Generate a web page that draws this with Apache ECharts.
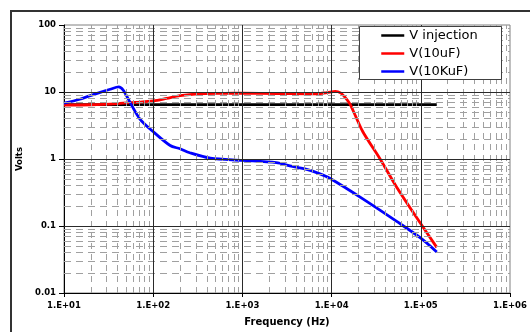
<!DOCTYPE html>
<html><head><meta charset="utf-8">
<script src="https://cdn.jsdelivr.net/npm/echarts@6/dist/echarts.min.js"></script>
<style>html,body{margin:0;padding:0;background:#fff}#c{width:530px;height:332px}</style>
</head><body><div id="c"></div>
<script>
const seriesNames = ['V injection', 'V(10uF)', 'V(10KuF)'];
const seriesColors = ['#000000', '#ff0000', '#0000ff'];

const injFreq  = [10, 151000];
const injVolts = [6.5, 6.5];

const uFreq  = [10, 20, 40, 63, 100, 141, 200, 316, 631, 1000, 2500, 6300, 8900, 11000, 12600, 14100, 16000, 17400, 22400, 34700, 53700, 100000, 151000];
const uVolts = [6.4, 6.45, 6.7, 7.0, 7.35, 8.0, 8.8, 9.4, 9.55, 9.6, 9.5, 9.35, 9.8, 10.2, 9.7, 8.4, 6.7, 5.3, 2.55, 1.02, 0.38, 0.108, 0.048];

const kFreq  = [10, 15, 25, 33, 41, 46, 55, 71, 102, 155, 200, 257, 437, 1000, 2400, 3400, 5250, 7400, 9550, 22400, 53700, 100000, 151000];
const kVolts = [6.8, 7.8, 9.8, 11.0, 11.9, 10.7, 7.0, 3.95, 2.5, 1.59, 1.42, 1.24, 1.03, 0.955, 0.88, 0.79, 0.70, 0.60, 0.515, 0.254, 0.117, 0.066, 0.041];

const xTickLabels = ['1.E+01', '1.E+02', '1.E+03', '1.E+04', '1.E+05', '1.E+06'];
const yTickLabels = ['0.01', '0.1', '1', '10', '100'];
const xAxisTitle = 'Frequency (Hz)';
const yAxisTitle = 'Volts';

const xMajorGrid = [100, 1000, 10000, 100000];
const yMajorGrid = [0.1, 1, 10];
const xDecades = [10, 100, 1000, 10000, 100000];
const yDecades = [0.01, 0.1, 1, 10];
const minorMult = [2, 3, 4, 5, 6, 7, 8, 9];

const pairs = (xs, ys) => xs.map((x, i) => [x, ys[i]]);

const gridLines = [];
xDecades.forEach(d => minorMult.forEach(m => gridLines.push({xAxis: d * m, lineStyle: {color: '#a0a0a0', width: 1, type: [6, 5]}})));
yDecades.forEach(d => minorMult.forEach(m => gridLines.push({yAxis: d * m, lineStyle: {color: '#a0a0a0', width: 1, type: [7, 5]}})));
xMajorGrid.forEach(v => gridLines.push({xAxis: v, lineStyle: {color: '#2a2a2a', width: 1, type: 'solid'}}));
yMajorGrid.forEach(v => gridLines.push({yAxis: v, lineStyle: {color: '#2a2a2a', width: 1, type: 'solid'}}));

const chart = echarts.init(document.getElementById('c'), null, {renderer: 'canvas'});
const lineSeries = (name, color, data, smooth) => ({
  name, type: 'line', data, symbol: 'none', smooth,
  lineStyle: {color, width: 2.8}, itemStyle: {color}, z: 3
});

chart.setOption({
  animation: false,
  backgroundColor: '#fff',
  grid: {left: 64, top: 25, right: 20, bottom: 36.5, show: true, borderColor: '#808080', borderWidth: 1, backgroundColor: 'transparent'},
  xAxis: {
    type: 'log', logBase: 10, min: 10, max: 1000000,
    splitNumber: 5,
    axisLine: {show: true, lineStyle: {color: '#000', width: 1}},
    axisTick: {show: true, inside: false, length: 4, lineStyle: {color: '#000'}},
    splitLine: {show: false},
    minorTick: {show: false},
    axisLabel: {
      margin: 8, color: '#000', fontFamily: 'DejaVu Sans', fontWeight: 'bold', fontSize: 8.5,
      formatter: v => xTickLabels[Math.round(Math.log10(v)) - 1]
    },
    name: xAxisTitle, nameLocation: 'middle', nameGap: 24,
    nameTextStyle: {color: '#000', fontFamily: 'DejaVu Sans', fontWeight: 'bold', fontSize: 10}
  },
  yAxis: {
    type: 'log', logBase: 10, min: 0.01, max: 100,
    splitNumber: 4,
    axisLine: {show: true, lineStyle: {color: '#000', width: 1}},
    axisTick: {show: true, inside: false, length: 5, lineStyle: {color: '#000'}},
    splitLine: {show: false},
    axisLabel: {
      margin: 8, color: '#000', fontFamily: 'DejaVu Sans', fontWeight: 'bold', fontSize: 8.5,
      formatter: v => yTickLabels[Math.round(Math.log10(v)) + 2]
    },
    name: yAxisTitle, nameLocation: 'middle', nameGap: 39, nameRotate: 90,
    nameTextStyle: {color: '#000', fontFamily: 'DejaVu Sans', fontWeight: 'bold', fontSize: 8.5}
  },
  legend: {
    data: seriesNames, orient: 'vertical', left: 380, top: 29, padding: 0,
    itemWidth: 23, itemHeight: 13, itemGap: 5, z: 101,
    itemStyle: {opacity: 0},
    lineStyle: {width: 2.5},
    textStyle: {color: '#000', fontFamily: 'DejaVu Sans', fontSize: 13}
  },
  graphic: [
    {type: 'rect', shape: {x: 11, y: 11, width: 600, height: 400}, style: {fill: 'none', stroke: '#333', lineWidth: 2}, z: 0, silent: true},
    {type: 'rect', shape: {x: 359.5, y: 26.5, width: 142, height: 53}, style: {fill: '#fff', stroke: '#404040', lineWidth: 1}, z: 100, silent: true}
  ],
  series: [
    {
      name: 'grid', type: 'line', data: [], silent: true, z: 1,
      markLine: {silent: true, symbol: 'none', label: {show: false}, animation: false, data: gridLines}
    },
    lineSeries(seriesNames[0], seriesColors[0], pairs(injFreq, injVolts), false),
    lineSeries(seriesNames[1], seriesColors[1], pairs(uFreq, uVolts), 0.3),
    lineSeries(seriesNames[2], seriesColors[2], pairs(kFreq, kVolts), 0.3)
  ]
});
</script></body></html>
